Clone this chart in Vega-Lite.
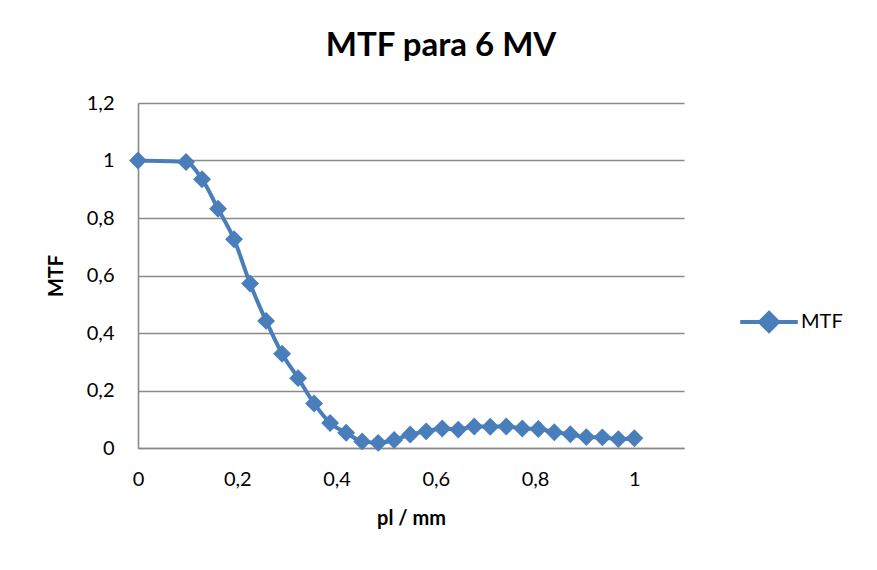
{
  "$schema": "https://vega.github.io/schema/vega-lite/v6.json",
  "autosize": "none",
  "width": 546,
  "height": 345,
  "padding": {"left": 138, "top": 103, "right": 193, "bottom": 122},
  "background": "white",
  "title": {
    "text": "MTF para 6 MV",
    "font": "Lato",
    "fontSize": 33,
    "fontWeight": "bold",
    "color": "black",
    "anchor": "middle",
    "dx": 30,
    "offset": 30
  },
  "data": {
    "values": [
      {"pl": 0.0, "mtf": 1.0},
      {"pl": 0.0968, "mtf": 0.995},
      {"pl": 0.129, "mtf": 0.935},
      {"pl": 0.1613, "mtf": 0.832},
      {"pl": 0.1935, "mtf": 0.726},
      {"pl": 0.2258, "mtf": 0.572},
      {"pl": 0.2581, "mtf": 0.442},
      {"pl": 0.2903, "mtf": 0.328},
      {"pl": 0.3226, "mtf": 0.243},
      {"pl": 0.3548, "mtf": 0.155},
      {"pl": 0.3871, "mtf": 0.087},
      {"pl": 0.4194, "mtf": 0.053},
      {"pl": 0.4516, "mtf": 0.023},
      {"pl": 0.4839, "mtf": 0.018},
      {"pl": 0.5161, "mtf": 0.028},
      {"pl": 0.5484, "mtf": 0.047},
      {"pl": 0.5806, "mtf": 0.058},
      {"pl": 0.6129, "mtf": 0.068},
      {"pl": 0.6452, "mtf": 0.064},
      {"pl": 0.6774, "mtf": 0.075},
      {"pl": 0.7097, "mtf": 0.074},
      {"pl": 0.7419, "mtf": 0.075},
      {"pl": 0.7742, "mtf": 0.068},
      {"pl": 0.8065, "mtf": 0.066},
      {"pl": 0.8387, "mtf": 0.055},
      {"pl": 0.871, "mtf": 0.048},
      {"pl": 0.9032, "mtf": 0.038},
      {"pl": 0.9355, "mtf": 0.037},
      {"pl": 0.9677, "mtf": 0.031},
      {"pl": 1.0, "mtf": 0.034}
    ]
  },
  "mark": {
    "type": "line",
    "interpolate": "monotone",
    "strokeWidth": 4,
    "point": {"shape": "diamond", "size": 320, "filled": true, "opacity": 1}
  },
  "encoding": {
    "x": {
      "field": "pl",
      "type": "quantitative",
      "scale": {"domain": [0, 1.1], "nice": false},
      "axis": {
        "title": "pl / mm",
        "values": [0, 0.2, 0.4, 0.6, 0.8, 1],
        "grid": false,
        "ticks": false,
        "labelFlush": false,
        "labelPadding": 21,
        "titlePadding": 19,
        "labelExpr": "replace(format(datum.value, '.1~f'), '.', ',')"
      }
    },
    "y": {
      "field": "mtf",
      "type": "quantitative",
      "scale": {"domain": [0, 1.2], "nice": false},
      "axis": {
        "title": "MTF",
        "values": [0, 0.2, 0.4, 0.6, 0.8, 1, 1.2],
        "grid": true,
        "ticks": false,
        "labelFlush": false,
        "labelPadding": 24,
        "titlePadding": 20,
        "labelExpr": "replace(format(datum.value, '.1~f'), '.', ',')"
      }
    },
    "color": {
      "datum": "MTF",
      "type": "nominal",
      "scale": {"range": ["#4a7ebb"]},
      "legend": {
        "title": null,
        "orient": "none",
        "legendX": 620,
        "legendY": 208,
        "symbolType": "M-3.2,0H3.2M0,-1L1,0L0,1L-1,0Z",
        "symbolSize": 324,
        "symbolStrokeWidth": 4,
        "symbolFillColor": "#4a7ebb",
        "symbolStrokeColor": "#4a7ebb",
        "labelOffset": 21,
        "labelFontSize": 20,
        "labelFont": "Lato",
        "labelColor": "black"
      }
    }
  },
  "config": {
    "font": "Lato",
    "view": {"stroke": null},
    "axis": {
      "labelFont": "Lato",
      "labelFontSize": 20,
      "labelColor": "black",
      "titleFont": "Lato",
      "titleFontSize": 20,
      "titleFontWeight": "bold",
      "titleColor": "black",
      "domainColor": "#8a8a8a",
      "domainWidth": 1.6,
      "gridColor": "#8a8a8a",
      "gridWidth": 1.6,
      "gridOpacity": 1
    }
  }
}
